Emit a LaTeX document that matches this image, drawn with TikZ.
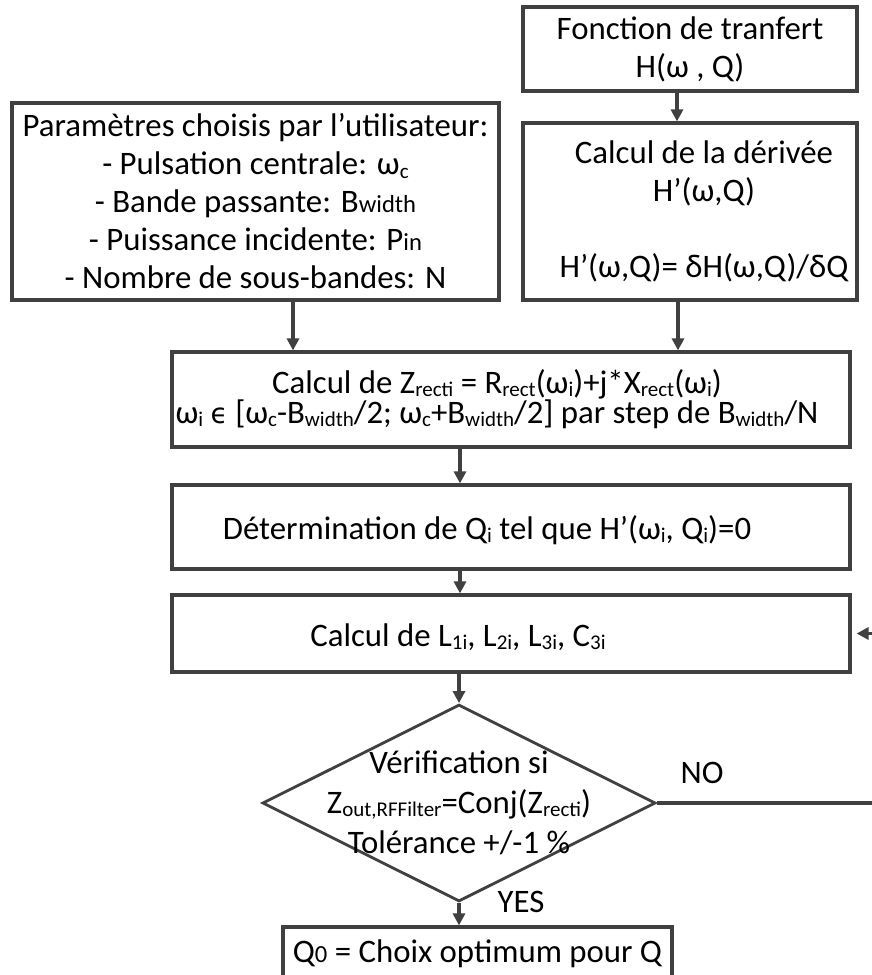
\documentclass[tikz,border=0pt]{standalone}
\usepackage{fontspec}
\setmainfont{Carlito}
\newfontfamily\symfont[Scale=0.85]{DejaVu Sans}
\usetikzlibrary{shapes.geometric,arrows.meta}
\definecolor{linegray}{HTML}{404040}
\newcommand{\lo}[1]{\raisebox{-0.2ex}{\fontsize{10.5}{10.5}\selectfont #1}}
\newcommand{\sm}[1]{{\fontsize{12.3}{12.3}\selectfont #1}}

\begin{document}
\begin{tikzpicture}[
		x=0.5pt, y=-0.5pt,
		box/.style={rectangle, draw=linegray, line width=1.6pt, inner sep=0pt, align=center, font=\fontsize{16.4}{19}\selectfont},
		test/.style={diamond, aspect=2, draw=linegray, line width=1.4pt, inner sep=0pt},
		txt/.style={align=center, inner sep=0pt, font=\fontsize{16.4}{19}\selectfont},
		arr/.style={draw=linegray, line width=1.6pt, -{Triangle[length=6pt,width=6pt]}},
		wire/.style={draw=linegray, line width=1.6pt}
		]
		\path[use as bounding box, fill=white] (0,0) rectangle (872,975);
		\clip (0,0) rectangle (872,975);
		\coordinate (axis) at (460,0);
		\coordinate (rim) at (890,0);
		% Inputs
		\node[box, minimum width=167pt, minimum height=42pt] (tf) at (690,49) {Fonction de tranfert\\H(ω , Q)};
		\node[box, minimum width=167pt, minimum height=88.5pt,
			label={[txt, xshift=7pt]center:Calcul de la dérivée\\H’(ω,Q)\\[19pt]H’(ω,Q)= δH(ω,Q)/δQ}] (deriv) at (690,211.5) {};
		\node[box, minimum width=243.5pt, minimum height=98.5pt] (params) at (255.5,201.5)
			{Paramètres choisis par l’utilisateur:\\- Pulsation centrale: ω\lo{c}\\- Bande passante: B\sm{width}\\- Puissance incidente: P\sm{in}\\- Nombre de sous-bandes: N};
		% Main chain
		\node[box, minimum width=339pt, minimum height=47.5pt,
			label={[txt, xshift=-7pt, font={\fontsize{16.4}{15}\selectfont\lineskiplimit=-20pt}]center:Calcul de Z\lo{recti} = R\lo{rect}(ω\lo{i})+j*X\lo{rect}(ω\lo{i})\\ω\lo{i} {\symfont ϵ} [ω\lo{c}-B\lo{width}/2; ω\lo{c}+B\lo{width}/2] par step de B\lo{width}/N}] (zrect) at (511,399.5) {};
		\node[box, minimum width=339pt, minimum height=42pt,
			label={[txt, xshift=-12pt, yshift=-1.5pt]center:Détermination de Q\lo{i} tel que H’(ω\lo{i}, Q\lo{i})=0}] (solve) at (511,527) {};
		\node[box, minimum width=339pt, minimum height=38.5pt,
			label={[txt, xshift=-26.5pt, yshift=-2pt]center:Calcul de L\lo{1i}, L\lo{2i}, L\lo{3i}, C\lo{3i}}] (calcl) at (511,633.5) {};
		\node[test, minimum width=196.5pt, minimum height=98.5pt,
			label={[txt, font={\fontsize{16.4}{20}\selectfont}]center:Vérification si\\Z\lo{out,RFFilter}=Conj(Z\lo{recti})\\Tolérance +/-1 \%}] (check) at (459,803) {};
		\node[box, minimum width=194.5pt, minimum height=26.5pt] (best) at (477.5,953.5) {Q\sm{0} = Choix optimum pour Q};
		\node[txt] (no) at (702,773) {NO};
		\node[txt] (yes) at (521,902) {YES};
		% Connectors
		\draw[arr] ([xshift=-6.5pt]tf.south) -- ([xshift=-6.5pt]deriv.north);
		\draw[arr] ([xshift=-6pt]deriv.south) -- ([xshift=-6pt]deriv.south |- zrect.north);
		\draw[arr] ([xshift=18.75pt]params.south) -- ([xshift=18.75pt]params.south |- zrect.north);
		\draw[arr] (zrect.south -| axis) -- (solve.north -| axis);
		\draw[arr] (solve.south -| axis) -- (calcl.north -| axis);
		\draw[arr] (calcl.south -| check.north) -- (check.north);
		\draw[arr] (check.south) -- (check.south |- best.north);
		\draw[wire] (check.east) -- (check.east -| rim);
		\draw[arr, shorten >=2.5pt] (calcl.east -| rim) -- (calcl.east);
\end{tikzpicture}
\end{document}
